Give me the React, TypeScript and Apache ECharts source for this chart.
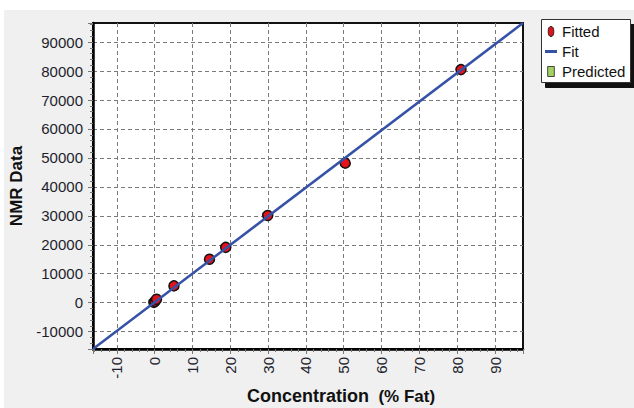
import React, { useEffect, useRef } from 'react';
import * as echarts from 'echarts';

// ---- data ----
const fittedX = [-0.2, 0.1, 0.5, 5.1, 14.5, 18.8, 29.9, 50.4, 81.0];
const fittedY = [100, 500, 1200, 5800, 15000, 19100, 30100, 48200, 80500];
const fitX = [-16.3, 97.4];
const fitY = [-16000, 96600];
const predictedX: number[] = [];
const predictedY: number[] = [];
const xRange = [-16.3, 97.4];
const yRange = [-16000, 96600];
const xTickStep = 10;
const yTickStep = 10000;
const seriesNames = ['Fitted', 'Fit', 'Predicted'];
const xTitle = 'Concentration';
const xTitleUnit = '(% Fat)';
const yTitle = 'NMR Data';

const FONT = 'Liberation Sans';
const RED = '#e3121b';
const BLUE = '#3552a6';
const GREEN = '#8cc43c';

const pair = (xs: number[], ys: number[]) => xs.map((x, i) => [x, ys[i]]);

export default function App() {
  const ref = useRef<HTMLDivElement>(null);
  useEffect(() => {
    if (!ref.current) return;
    const chart = echarts.init(ref.current, undefined, { renderer: 'svg' });
    const gridLine = { show: true, showMinLine: false, showMaxLine: false, lineStyle: { color: '#7a7a7a', type: [4, 3], width: 1 } };
    const tick = { show: true, length: 5, lineStyle: { color: '#777', width: 1 } };
    const minor = { show: true, splitNumber: 5, length: 3, lineStyle: { color: '#777', width: 1 } };
    const plain = (v: number) => String(Math.round(v));
    // legend frame (chart coordinates; chart div sits at page offset 4,10)
    const fx = 537.5, fy = 9.5, fw = 89, fh = 63;
    const sx = fx + 4, sy = fy + 5, r = fx + fw + 4, b = fy + fh + 5;
    const option: any = {
      animation: false,
      backgroundColor: '#eff0ef',
      textStyle: { fontFamily: FONT },
      graphic: [
        {
          type: 'polygon', id: 'legendShadow', silent: true, z: 9,
          shape: { points: [[sx, sy], [r, sy], [r, b], [sx, b]] },
          style: { fill: '#111111', stroke: '#111111', lineWidth: 1 },
        },
        {
          type: 'rect', id: 'legendFrame', silent: true, z: 10,
          shape: { x: fx, y: fy, width: fw, height: fh },
          style: { fill: '#ffffff', stroke: '#333333', lineWidth: 1 },
        },
      ],
      grid: {
        left: 89, top: 13, right: 111, bottom: 59,
        outerBoundsMode: 'none', containLabel: false,
        show: true, backgroundColor: '#ffffff', borderColor: '#111', borderWidth: 2,
      },
      legend: {
        orient: 'vertical', left: 537, top: 9, z: 20,
        padding: [5, 5, 4, 4], itemWidth: 12, itemHeight: 10, itemGap: 5,
        backgroundColor: 'transparent', borderWidth: 0,
        symbolKeepAspect: true,
        textStyle: { fontSize: 15, color: '#111', fontFamily: FONT },
        data: [
          { name: seriesNames[0], icon: 'path://M5,0 A5,9 0 1,1 5,18 A5,9 0 1,1 5,0 Z', itemStyle: { color: RED, borderColor: '#222', borderWidth: 1 } },
          { name: seriesNames[1], icon: 'path://M0,0 L12,0 L12,3 L0,3 Z', itemStyle: { color: BLUE, borderWidth: 0 } },
          { name: seriesNames[2], icon: 'path://M0,0 L6,0 L6,9 L0,9 Z', itemStyle: { color: GREEN, borderColor: '#222', borderWidth: 1 } },
        ],
      },
      xAxis: {
        type: 'value', min: xRange[0], max: xRange[1], splitNumber: 11,
        minInterval: xTickStep, maxInterval: xTickStep,
        axisLine: { show: true, onZero: false, lineStyle: { color: '#000', width: 2.5 } },
        axisTick: tick, minorTick: minor, splitLine: gridLine,
        axisLabel: { rotate: 90, margin: 8, fontSize: 15, color: '#1e1e2e', showMinLabel: false, showMaxLabel: false, formatter: plain },
        name: `{a|${xTitle}}  {b|${xTitleUnit}}`,
        nameLocation: 'middle', nameGap: 38,
        nameTextStyle: {
          fontSize: 17, fontWeight: 'bold', color: '#111', padding: [0, 0, 0, 66],
          rich: {
            a: { fontSize: 18, fontWeight: 'bold', color: '#111', fontFamily: FONT },
            b: { fontSize: 17, fontWeight: 'bold', color: '#111', fontFamily: FONT },
          },
        },
      },
      yAxis: {
        type: 'value', min: yRange[0], max: yRange[1], splitNumber: 11,
        minInterval: yTickStep, maxInterval: yTickStep,
        axisLine: { show: true, onZero: false, lineStyle: { color: '#000', width: 2.5 } },
        axisTick: tick, minorTick: minor, splitLine: gridLine,
        axisLabel: { margin: 10, fontSize: 15, color: '#1e1e2e', showMinLabel: false, showMaxLabel: false, formatter: plain },
        name: yTitle, nameLocation: 'middle', nameGap: 64,
        nameTextStyle: { fontSize: 17, fontWeight: 'bold', color: '#111' },
      },
      series: [
        {
          name: seriesNames[0], type: 'scatter', data: pair(fittedX, fittedY),
          symbol: 'circle', symbolSize: 10, z: 2,
          itemStyle: { color: RED, borderColor: '#111', borderWidth: 1.5, opacity: 1 },
        },
        {
          name: seriesNames[1], type: 'line', data: pair(fitX, fitY),
          symbol: 'none', z: 3, color: BLUE,
          lineStyle: { color: BLUE, width: 2.5 },
        },
        {
          name: seriesNames[2], type: 'scatter', data: pair(predictedX, predictedY),
          symbol: 'rect', symbolSize: 8, color: GREEN,
          itemStyle: { color: GREEN, borderColor: '#222', borderWidth: 1 },
        },
      ],
    };
    chart.setOption(option);
    return () => chart.dispose();
  }, []);
  return (
    <div
      ref={ref}
      style={{ position: 'fixed', left: 4, top: 10, width: 630, height: 398 }}
    />
  );
}
